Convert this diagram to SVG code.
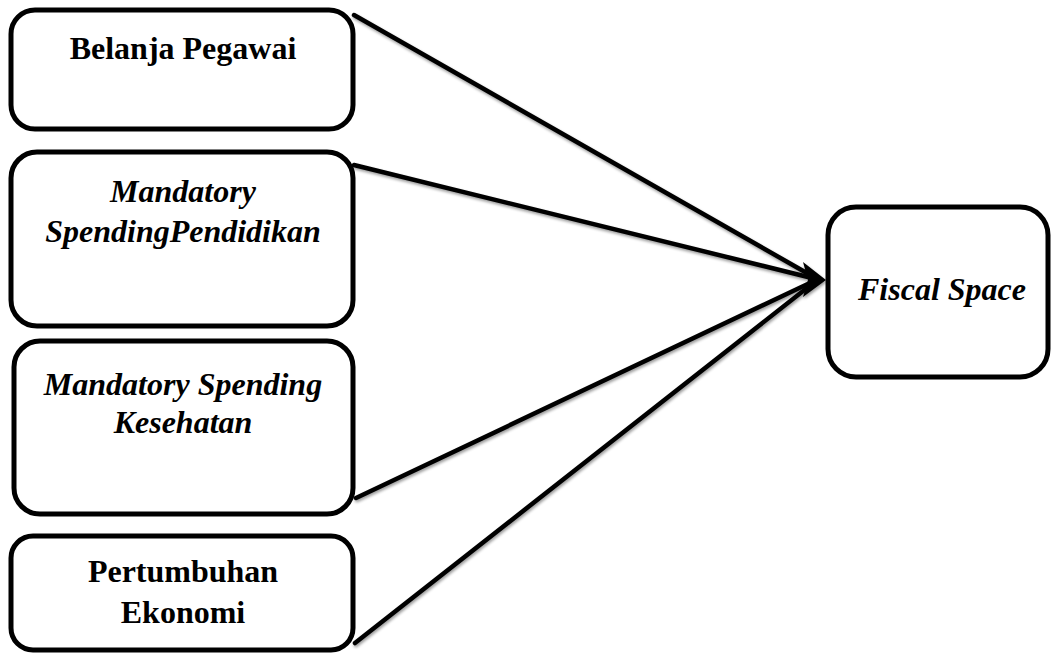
<svg xmlns="http://www.w3.org/2000/svg" width="1052" height="654" viewBox="0 0 1052 654">
<defs>
<style>
.box{fill:#fff;stroke:#000;stroke-width:5}
.t{font-family:"Liberation Serif","Times New Roman",serif;font-size:32px;font-weight:bold;fill:#000;text-anchor:middle}
.i{font-style:italic}
.c{stroke:#000;stroke-width:4.5;fill:none;stroke-linecap:round}
</style>
<filter id="sh" x="-5%" y="-5%" width="110%" height="110%">
<feGaussianBlur in="SourceAlpha" stdDeviation="1.5" result="b"/>
<feOffset dx="1" dy="2" result="o"/>
<feComponentTransfer in="o" result="s"><feFuncA type="linear" slope="0.4"/></feComponentTransfer>
<feMerge><feMergeNode in="s"/><feMergeNode in="SourceGraphic"/></feMerge>
</filter>
</defs>
<rect width="1052" height="654" fill="#fff"/>
<g id="connectors" filter="url(#sh)">
<line class="c" x1="354" y1="15" x2="812" y2="276"/>
<line class="c" x1="354" y1="165" x2="812" y2="278"/>
<line class="c" x1="356" y1="498" x2="812" y2="282"/>
<line class="c" x1="355" y1="643" x2="812" y2="284"/>
<polygon points="826,280 803,262 808,280 803,297" fill="#000"/>
</g>
<g id="n1">
<rect class="box" x="11" y="10" width="342" height="119" rx="24"/>
<text class="t" x="183" y="59">Belanja Pegawai</text>
</g>
<g id="n2">
<rect class="box" x="11" y="152" width="342" height="174" rx="26"/>
<text class="t i" x="183" y="202">Mandatory</text>
<text class="t i" x="183" y="242">SpendingPendidikan</text>
</g>
<g id="n3">
<rect class="box" x="14" y="341" width="339" height="173" rx="26"/>
<text class="t i" x="183" y="395">Mandatory Spending</text>
<text class="t i" x="183" y="433">Kesehatan</text>
</g>
<g id="n4">
<rect class="box" x="11" y="536" width="342" height="114" rx="22"/>
<text class="t" x="183" y="582">Pertumbuhan</text>
<text class="t" x="183" y="623">Ekonomi</text>
</g>
<g id="n5">
<rect class="box" x="828" y="207" width="220" height="170" rx="28"/>
<text class="t i" x="942" y="300">Fiscal Space</text>
</g>
</svg>
